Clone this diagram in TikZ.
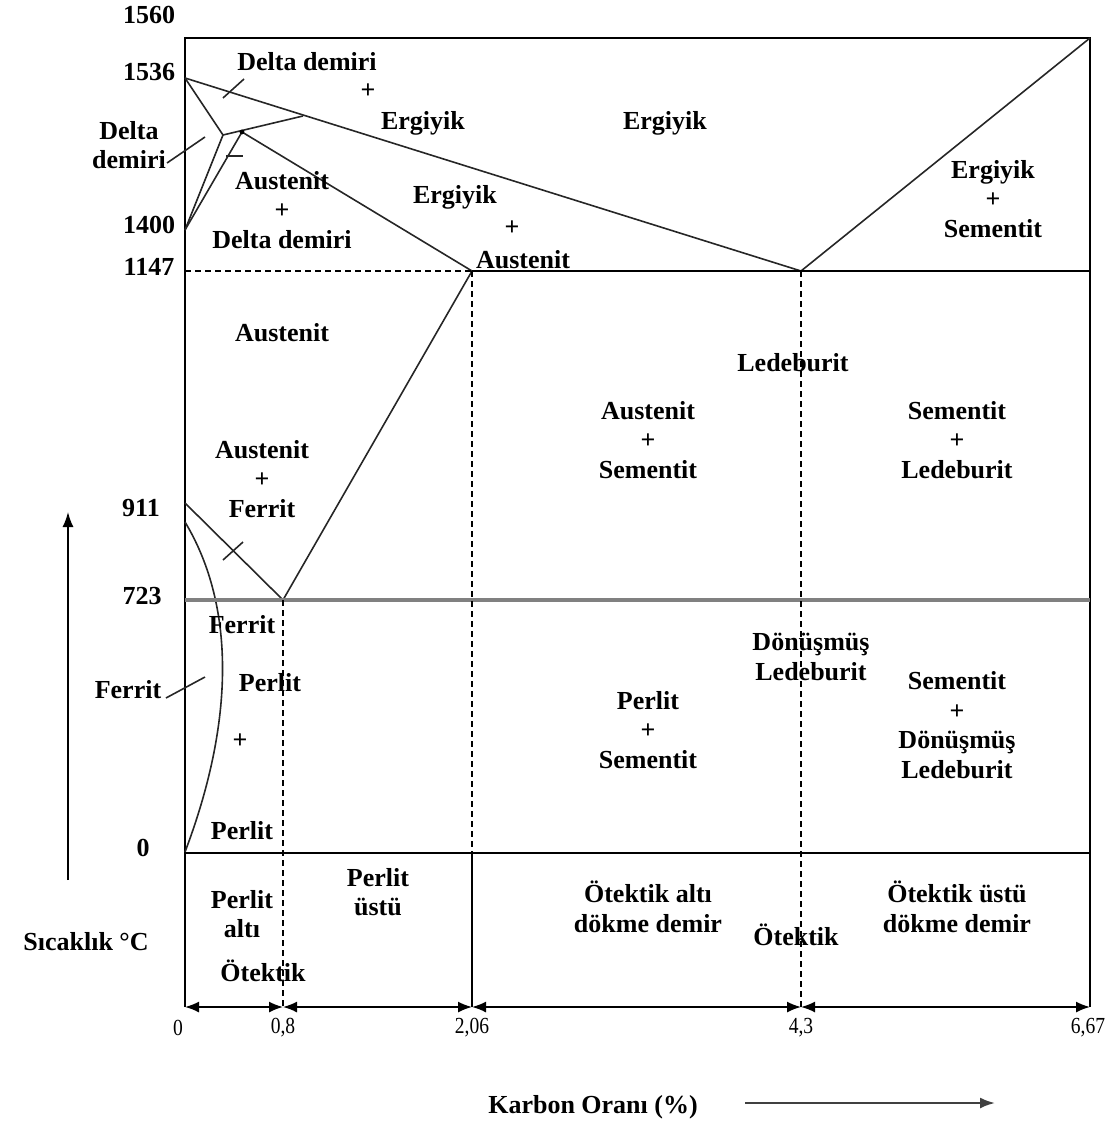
\documentclass[tikz,border=0pt]{standalone}
\usepackage{fontspec}
\setmainfont{Liberation Serif}
\usetikzlibrary{arrows.meta}
\newcommand\lbfont{\fontsize{26}{29.5}\selectfont\bfseries}
\newcommand\tkfont{\fontsize{23}{24}\selectfont}
\begin{document}
\begin{tikzpicture}[x=1pt,y=-1pt,
  lbl/.style={font=\lbfont,align=center,inner sep=0pt},
  tk/.style={font=\tkfont,inner sep=0pt},
  frm/.style={line width=2pt,black},
  ph/.style={line width=1.6pt,black!85},
  dsh/.style={line width=1.5pt,black,dash pattern=on 6pt off 4pt},
  dimline/.style={line width=1.6pt,black,{Latex[length=14pt,width=11pt]}-{Latex[length=14pt,width=11pt]}},
]
\useasboundingbox (0,0) rectangle (1117,1127);

% ---- key points
\coordinate (TL) at (185,38);
\coordinate (TR) at (1090,38);
\coordinate (BL) at (185,1007);
\coordinate (BR) at (1090,1007);
\coordinate (A) at (185,78);
\coordinate (J) at (223,135);
\coordinate (H) at (242,132);
\coordinate (B) at (303,116);
\coordinate (N) at (185,230);
\coordinate (E) at (472,271);
\coordinate (C) at (801,271);
\coordinate (L1147) at (185,271);
\coordinate (R1147) at (1090,271);
\coordinate (G) at (185,503);
\coordinate (S) at (283,600);
\coordinate (L723) at (185,600);
\coordinate (R723) at (1090,600);
\coordinate (L0) at (185,853);
\coordinate (R0) at (1090,853);
\coordinate (E0) at (472,853);
\coordinate (P08) at (283,1007);
\coordinate (P206) at (472,1007);
\coordinate (P43) at (801,1007);
\coordinate (FT) at (185,522);
\coordinate (FB) at (185,852);
\coordinate (FC1) at (232,600);
\coordinate (FC2) at (238,712);

% ---- frame
\draw[frm] (BL) -- (TL) -- (TR) -- (BR);

% ---- phase lines
\draw[ph] (A) -- (C) -- (TR);
\draw[ph] (A) -- (J) -- (B);
\draw[ph] (N) -- (J);
\draw[ph] (N) -- (H);
\draw[ph] (H) -- (E);
\fill[black] (H) circle (2.4);
\draw[dsh] (L1147) -- (E);
\draw[frm] (E) -- (R1147);
\draw[ph] (E) -- (S);
\draw[ph] (G) -- (S);
\draw[ph] (FT) .. controls (FC1) and (FC2) .. (FB);
\draw[line width=3.2pt,black!50] (L723) -- (R723);
\draw[frm] (L0) -- (R0);
\draw[frm] (E0) -- (P206);
\draw[dsh] (S) -- (P08);
\draw[dsh] (E) -- (E0);
\draw[dsh] (C) -- (P43);

% ---- leader / tick marks
\coordinate (k1a) at (223,98);  \coordinate (k1b) at (244,79);
\coordinate (k2a) at (167,163); \coordinate (k2b) at (205,137);
\coordinate (k3a) at (226,156); \coordinate (k3b) at (243,156);
\coordinate (k4a) at (223,560); \coordinate (k4b) at (243,542);
\coordinate (k5a) at (166,698); \coordinate (k5b) at (205,677);
\draw[ph] (k1a) -- (k1b);
\draw[ph] (k2a) -- (k2b);
\draw[ph] (k3a) -- (k3b);
\draw[ph] (k4a) -- (k4b);
\draw[ph] (k5a) -- (k5b);

% ---- bottom dimension arrows
\draw[dimline] (BL) -- (P08);
\draw[dimline] (P08) -- (P206);
\draw[dimline] (P206) -- (P43);
\draw[dimline] (P43) -- (BR);

% ---- axis arrows
\coordinate (YB) at (68,880);
\coordinate (YT) at (68,512);
\draw[line width=1.6pt,black,-{Latex[length=15pt,width=11pt]}] (YB) -- (YT);
\coordinate (XA) at (745,1103);
\coordinate (XB) at (995,1103);
\draw[line width=2.2pt,black!75,-{Latex[length=15pt,width=11pt]}] (XA) -- (XB);

% ---- temperature labels
\node[lbl] (t1560) at (149,15) {1560};
\node[lbl] (t1536) at (149,72) {1536};
\node[lbl] (t1400) at (149,225) {1400};
\node[lbl] (t1147) at (149,267) {1147};
\node[lbl] (t911) at (141,508) {911};
\node[lbl] (t723) at (142,596) {723};
\node[lbl] (t0) at (143,848) {0};

% ---- carbon labels
\node[tk] (c0) at (178,1028) {\scalebox{0.85}[1]{0}};
\node[tk] (c08) at (283,1028) {\scalebox{0.85}[1]{0,8}};
\node[tk] (c206) at (472,1028) {\scalebox{0.85}[1]{2,06}};
\node[tk] (c43) at (801,1028) {\scalebox{0.85}[1]{4,3}};
\node[tk] (c667) at (1088,1028) {\scalebox{0.85}[1]{6,67}};

% ---- axis titles
\node[lbl] (ytitle) at (86,942) {Sıcaklık °C};
\node[lbl] (xtitle) at (593,1107) {Karbon Oranı (\%)};

% ---- region labels
\node[lbl] (dd1) at (307,62) {Delta demiri};
\node[lbl] (pl1) at (368,91) {+};
\node[lbl] (erg1) at (423,123) {Ergiyik};
\node[lbl] (erg2) at (665,123) {Ergiyik};
\node[lbl] (dd2) at (129,145) {Delta\\demiri};
\node[lbl] (aud) at (282,210) {Austenit\\+\\Delta demiri};
\node[lbl] (erg3) at (455,197) {Ergiyik};
\node[lbl] (pl2) at (512,228) {+};
\node[lbl] (aus1) at (523,260) {Austenit};
\node[lbl] (ers) at (993,199) {Ergiyik\\+\\Sementit};
\node[lbl] (aus2) at (282,333) {Austenit};
\node[lbl] (led1) at (793,363) {Ledeburit};
\node[lbl] (aus3) at (648,440) {Austenit\\+\\Sementit};
\node[lbl] (sem1) at (957,440) {Sementit\\+\\Ledeburit};
\node[lbl] (auf) at (262,479) {Austenit\\+\\Ferrit};
\node[lbl] (fer1) at (242,625) {Ferrit};
\node[lbl] (fer2) at (128,690) {Ferrit};
\node[lbl] (per1) at (270,683) {Perlit};
\node[lbl] (pl3) at (240,741) {+};
\node[lbl] (per2) at (242,831) {Perlit};
\node[lbl] (dled) at (811,657) {Dönüşmüş\\Ledeburit};
\node[lbl] (pers) at (648,730) {Perlit\\+\\Sementit};
\node[lbl] (semd) at (957,725) {Sementit\\+\\Dönüşmüş\\Ledeburit};
\node[lbl] (pera) at (242,914) {Perlit\\altı};
\node[lbl] (ot1) at (263,971) {Ötektik};
\node[lbl] (peru) at (378,892) {Perlit\\üstü};
\node[lbl] (ota) at (648,907) {Ötektik altı\\dökme demir};
\node[lbl] (ot2) at (796,935) {Ötektik};
\node[lbl] (otu) at (957,907) {Ötektik üstü\\dökme demir};
\end{tikzpicture}
\end{document}
